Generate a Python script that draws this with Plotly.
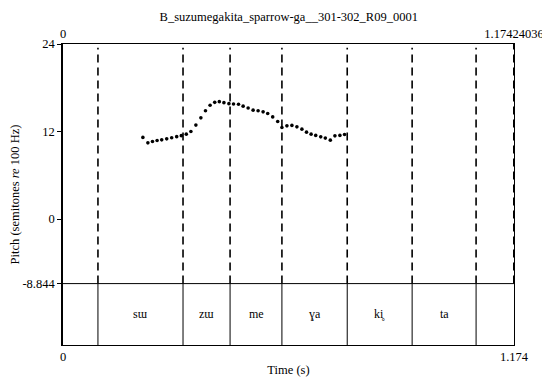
import plotly.graph_objects as go

# ---- data ----
title_text = "B_suzumegakita_sparrow-ga__301-302_R09_0001"
t_start = 0.0
t_end = 1.17424036
t_end_label = "1.174"
tier_floor = -8.844
y_bottom = -17.26
y_top = 24

pitch_times = [0.208, 0.221, 0.233, 0.245, 0.257, 0.270, 0.283, 0.296, 0.308, 0.321,
               0.333, 0.346, 0.359, 0.371, 0.383, 0.395, 0.407, 0.419, 0.432, 0.444,
               0.457, 0.469, 0.482, 0.495, 0.508, 0.521, 0.533, 0.546, 0.559, 0.570,
               0.583, 0.596, 0.609, 0.622, 0.634, 0.646, 0.658, 0.671, 0.683, 0.696,
               0.708, 0.721, 0.733]
pitch_values = [11.2, 10.45, 10.64, 10.78, 10.86, 11.0, 11.14, 11.3, 11.44, 11.64,
                12.0, 12.88, 13.88, 14.86, 15.6, 16.0, 16.1, 15.96, 15.82, 15.78,
                15.75, 15.48, 15.23, 14.93, 14.84, 14.7, 14.48, 14.01, 13.38, 12.56,
                12.78, 12.84, 12.64, 12.33, 11.92, 11.64, 11.47, 11.27, 11.1, 10.82,
                11.41, 11.47, 11.6]

boundaries = [0.091, 0.3125, 0.435, 0.570, 0.740, 0.909, 1.0755]
syllables = ["", "sɯ", "zɯ", "me", "ɣa", "ki̥", "ta", ""]

y_tickvals = [24, 12, 0, -8.844]
y_ticktext = ["24", "12", "0", "-8.844"]

FONT = "Liberation Serif, Times New Roman, DejaVu Serif, serif"

fig = go.Figure()
fig.add_trace(go.Scatter(
    x=pitch_times, y=pitch_values, mode="markers",
    marker=dict(color="black", size=3.6), showlegend=False, hoverinfo="x+y"))
fig.add_trace(go.Scatter(x=[t_start, t_end], y=[y_bottom, y_bottom], xaxis="x2",
                         mode="markers", marker=dict(opacity=0), showlegend=False,
                         hoverinfo="skip"))

shapes = []
shapes.append(dict(type="line", xref="x", yref="y", x0=t_start, x1=t_end,
                   y0=tier_floor, y1=tier_floor, line=dict(color="black", width=1)))
for b in boundaries:
    shapes.append(dict(type="line", xref="x", yref="y", x0=b, x1=b,
                       y0=y_bottom, y1=tier_floor, line=dict(color="black", width=1)))
    shapes.append(dict(type="line", xref="x", yref="y", x0=b, x1=b,
                       y0=tier_floor, y1=y_top - 0.5,
                       line=dict(color="black", width=1.6, dash="8px,5px")))
shapes.append(dict(type="line", xref="x", yref="y", x0=t_end, x1=t_end,
                   y0=tier_floor, y1=y_top,
                   line=dict(color="black", width=2, dash="8px,5px")))

annotations = []
edges = [t_start] + boundaries + [t_end]
for i, lab in enumerate(syllables):
    if lab:
        annotations.append(dict(x=(edges[i] + edges[i + 1]) / 2,
                                y=(tier_floor + y_bottom) / 2, xref="x", yref="y",
                                text=lab, showarrow=False,
                                font=dict(family=FONT, size=12, color="black")))

fig.update_layout(
    width=542, height=374,
    margin=dict(l=55, r=36, t=36, b=37, autoexpand=False),
    paper_bgcolor="white", plot_bgcolor="white",
    font=dict(family=FONT, size=12, color="black"),
    title=dict(text=title_text, x=0.518, xanchor="center", y=0.976, yanchor="middle",
               font=dict(family=FONT, size=12.5, color="black")),
    shapes=shapes, annotations=annotations,
    xaxis=dict(range=[t_start, t_end], tickvals=[t_start, t_end], automargin=False,
               ticktext=["0", t_end_label], ticks="", showgrid=False, zeroline=False,
               showline=True, linecolor="black", linewidth=1, mirror=False,
               title=dict(text="Time (s)", standoff=2,
                          font=dict(family=FONT, size=12.5)),
               tickfont=dict(family=FONT, size=12.5)),
    xaxis2=dict(range=[t_start, t_end], overlaying="x", side="top", automargin=False,
                tickvals=[t_start, t_end], ticktext=["0", "1.17424036"], ticks="",
                showgrid=False, zeroline=False, showline=True, linecolor="black",
                linewidth=1, tickfont=dict(family=FONT, size=12.5)),
    yaxis=dict(range=[y_bottom, y_top], tickvals=y_tickvals, ticktext=y_ticktext,
               automargin=False,
               ticks="outside", ticklen=4, tickcolor="black", showgrid=False,
               zeroline=False, showline=True, linecolor="black", linewidth=1.5,
               mirror=False,
               title=dict(text="Pitch (semitones <i>re</i> 100 Hz)", standoff=0,
                          font=dict(family=FONT, size=12.5)),
               tickfont=dict(family=FONT, size=12.5)),
    yaxis2=dict(range=[y_bottom, y_top], overlaying="y", side="right", automargin=False,
                showticklabels=False, ticks="", showgrid=False, zeroline=False,
                showline=True, linecolor="black", linewidth=1),
)
fig.add_trace(go.Scatter(x=[t_start], y=[y_bottom], yaxis="y2", mode="markers",
                         marker=dict(opacity=0), showlegend=False, hoverinfo="skip"))

fig.write_html("out.html")
